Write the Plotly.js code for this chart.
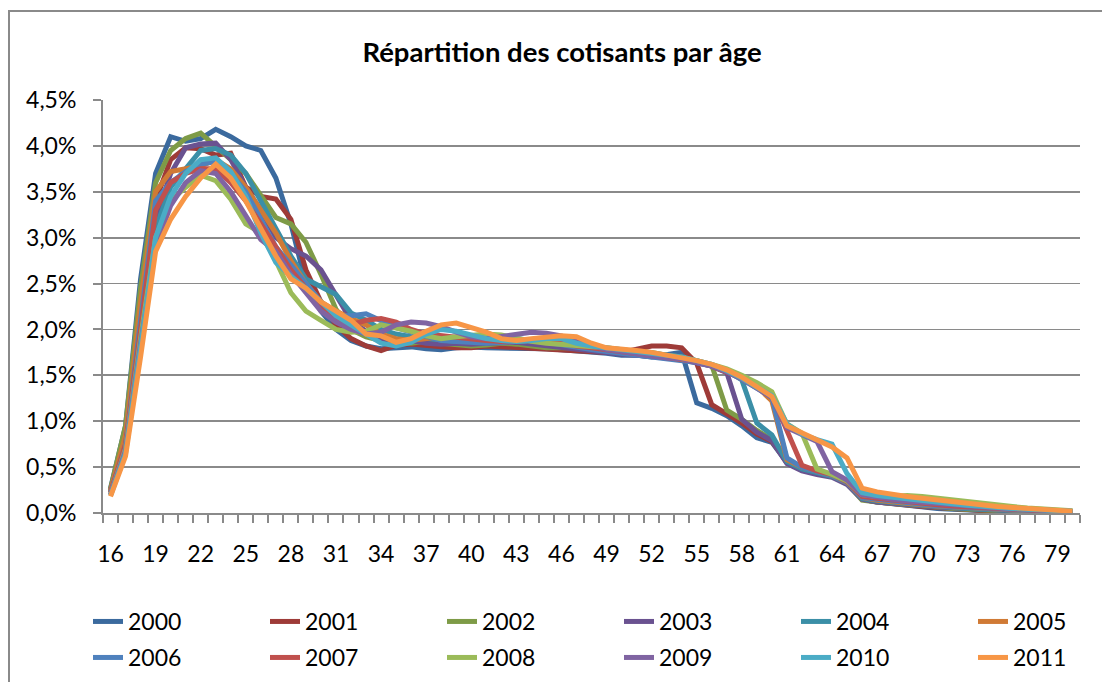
<!DOCTYPE html>
<html>
<head>
<meta charset="utf-8">
<script src="https://cdn.plot.ly/plotly-3.0.1.min.js"></script>
<style>html,body{margin:0;padding:0;background:#fff;}#chart{width:1102px;height:682px;}</style>
</head>
<body>
<div id="chart"></div>
<script>
// Ages 16..80
const ages = [16,17,18,19,20,21,22,23,24,25,26,27,28,29,30,31,32,33,34,35,36,37,38,39,40,41,42,43,44,45,46,47,48,49,50,51,52,53,54,55,56,57,58,59,60,61,62,63,64,65,66,67,68,69,70,71,72,73,74,75,76,77,78,79,80];
const xTickLabels = [16,19,22,25,28,31,34,37,40,43,46,49,52,55,58,61,64,67,70,73,76,79];
const seriesNames = ['2000','2001','2002','2003','2004','2005','2006','2007','2008','2009','2010','2011'];

const y2000 = [0.27,0.95,2.55,3.7,4.1,4.05,4.08,4.18,4.1,4.0,
  3.95,3.65,3.15,2.5,2.2,2.0,1.88,1.82,1.79,1.8,
  1.81,1.79,1.78,1.8,1.81,1.8,1.8,1.8,1.79,1.79,
  1.78,1.77,1.76,1.74,1.72,1.72,1.7,1.72,1.75,1.2,
  1.14,1.06,0.95,0.82,0.77,0.55,0.47,0.43,0.4,0.32,
  0.15,0.12,0.1,0.08,0.07,0.05,0.04,0.03,0.025,0.02,
  0.015,0.012,0.01,0.01,0.008];
const y2001 = [0.25,0.85,2.3,3.4,3.85,3.98,3.97,3.9,3.92,3.55,
  3.45,3.42,3.2,2.65,2.3,2.05,1.9,1.82,1.77,1.83,
  1.84,1.82,1.81,1.8,1.8,1.82,1.81,1.8,1.8,1.79,
  1.78,1.77,1.76,1.75,1.75,1.79,1.82,1.82,1.8,1.63,
  1.18,1.08,0.98,0.86,0.78,0.56,0.48,0.44,0.4,0.33,
  0.15,0.12,0.1,0.09,0.07,0.06,0.045,0.035,0.028,0.022,
  0.017,0.013,0.01,0.01,0.008];
const y2002 = [0.26,0.95,2.45,3.6,3.95,4.08,4.14,4.0,3.85,3.7,
  3.45,3.22,3.15,2.95,2.6,2.22,2.0,1.92,1.88,1.85,
  1.85,1.87,1.85,1.83,1.82,1.83,1.85,1.84,1.82,1.8,
  1.8,1.8,1.78,1.77,1.76,1.75,1.75,1.72,1.7,1.66,
  1.61,1.12,1.02,0.9,0.8,0.55,0.47,0.43,0.4,0.32,
  0.14,0.12,0.1,0.09,0.08,0.06,0.05,0.04,0.03,0.025,
  0.02,0.015,0.012,0.01,0.009];
const y2003 = [0.24,0.8,2.1,3.2,3.7,3.98,4.02,4.03,3.85,3.55,
  3.3,3.0,2.88,2.8,2.65,2.37,2.1,1.98,1.9,1.87,
  1.88,1.85,1.84,1.85,1.84,1.85,1.86,1.86,1.84,1.82,
  1.8,1.78,1.77,1.75,1.73,1.72,1.71,1.69,1.67,1.64,
  1.6,1.53,1.02,0.88,0.79,0.54,0.46,0.42,0.39,0.31,
  0.15,0.12,0.11,0.09,0.08,0.065,0.055,0.045,0.035,0.028,
  0.022,0.017,0.013,0.011,0.01];
const y2004 = [0.23,0.8,2.1,3.1,3.55,3.75,3.95,3.97,3.9,3.7,
  3.4,3.1,2.8,2.55,2.47,2.38,2.18,2.1,2.0,1.95,
  1.92,1.9,1.88,1.87,1.87,1.88,1.9,1.9,1.88,1.86,
  1.84,1.82,1.8,1.78,1.76,1.73,1.71,1.69,1.67,1.65,
  1.61,1.55,1.45,0.98,0.85,0.56,0.48,0.44,0.4,0.33,
  0.16,0.13,0.11,0.1,0.085,0.07,0.06,0.05,0.04,0.032,
  0.025,0.02,0.015,0.012,0.01];
const y2005 = [0.24,0.85,2.3,3.5,3.72,3.75,3.78,3.85,3.75,3.55,
  3.3,3.05,2.75,2.5,2.3,2.2,2.12,2.05,1.95,1.9,
  1.88,1.9,1.92,1.9,1.88,1.87,1.86,1.87,1.88,1.87,
  1.85,1.82,1.8,1.78,1.76,1.74,1.71,1.69,1.67,1.65,
  1.61,1.55,1.47,1.38,1.22,0.58,0.5,0.45,0.41,0.33,
  0.17,0.14,0.12,0.1,0.09,0.075,0.065,0.055,0.045,0.036,
  0.028,0.022,0.017,0.014,0.011];
const y2006 = [0.22,0.75,2.1,3.4,3.6,3.72,3.8,3.83,3.7,3.5,
  3.2,2.9,2.7,2.5,2.3,2.15,2.15,2.17,2.1,2.02,
  1.97,1.92,1.88,1.87,1.86,1.85,1.86,1.87,1.88,1.86,
  1.83,1.8,1.78,1.76,1.74,1.72,1.7,1.68,1.66,1.64,
  1.6,1.54,1.46,1.36,1.26,0.6,0.5,0.45,0.41,0.33,
  0.17,0.15,0.13,0.11,0.095,0.08,0.07,0.06,0.05,0.04,
  0.032,0.025,0.02,0.016,0.012];
const y2007 = [0.22,0.75,2.0,3.3,3.6,3.7,3.75,3.75,3.6,3.4,
  3.15,2.9,2.65,2.45,2.25,2.1,2.05,2.1,2.12,2.08,
  2.0,1.95,1.93,1.92,1.9,1.88,1.87,1.88,1.9,1.9,
  1.86,1.82,1.8,1.78,1.76,1.74,1.71,1.69,1.67,1.65,
  1.6,1.54,1.47,1.38,1.28,0.9,0.52,0.46,0.42,0.34,
  0.18,0.16,0.14,0.12,0.1,0.09,0.075,0.065,0.055,0.045,
  0.036,0.028,0.022,0.017,0.013];
const y2008 = [0.2,0.7,1.9,3.0,3.4,3.55,3.68,3.62,3.42,3.15,
  3.05,2.75,2.4,2.2,2.1,2.0,1.97,1.98,2.05,2.02,
  1.98,1.93,1.9,1.92,1.93,1.95,1.94,1.9,1.87,1.85,
  1.84,1.83,1.82,1.8,1.78,1.75,1.72,1.7,1.68,1.66,
  1.62,1.57,1.5,1.42,1.32,0.97,0.87,0.48,0.42,0.35,
  0.2,0.18,0.18,0.19,0.18,0.16,0.14,0.12,0.1,0.085,
  0.07,0.055,0.042,0.032,0.024];
const y2009 = [0.2,0.68,1.85,2.9,3.35,3.6,3.73,3.7,3.5,3.25,
  2.98,2.85,2.6,2.4,2.2,2.08,2.0,1.95,1.97,2.05,
  2.08,2.07,2.03,1.97,1.92,1.9,1.92,1.95,1.97,1.96,
  1.93,1.87,1.82,1.78,1.76,1.73,1.71,1.69,1.68,1.64,
  1.6,1.54,1.46,1.36,1.26,0.93,0.85,0.78,0.45,0.36,
  0.2,0.17,0.15,0.13,0.115,0.1,0.085,0.075,0.065,0.055,
  0.045,0.036,0.028,0.022,0.016];
const y2010 = [0.19,0.65,1.8,3.0,3.45,3.7,3.85,3.87,3.72,3.45,
  3.05,2.73,2.58,2.45,2.3,2.15,2.05,1.95,1.85,1.82,
  1.86,1.95,2.0,1.98,1.94,1.9,1.88,1.87,1.88,1.9,
  1.9,1.85,1.82,1.8,1.78,1.76,1.74,1.71,1.7,1.66,
  1.62,1.55,1.47,1.37,1.28,0.97,0.86,0.8,0.75,0.43,
  0.22,0.19,0.17,0.15,0.13,0.115,0.1,0.085,0.07,0.06,
  0.05,0.04,0.032,0.025,0.018];
const y2011 = [0.18,0.62,1.7,2.85,3.2,3.45,3.65,3.8,3.65,3.4,
  3.1,2.8,2.55,2.45,2.3,2.2,2.1,1.95,1.93,1.86,
  1.9,1.98,2.05,2.07,2.02,1.97,1.9,1.88,1.9,1.92,
  1.93,1.92,1.85,1.8,1.79,1.77,1.75,1.72,1.7,1.66,
  1.62,1.56,1.48,1.38,1.27,0.95,0.87,0.8,0.72,0.6,
  0.27,0.23,0.2,0.18,0.16,0.14,0.12,0.1,0.085,0.07,
  0.06,0.05,0.04,0.03,0.02];

const seriesValues = [y2000,y2001,y2002,y2003,y2004,y2005,y2006,y2007,y2008,y2009,y2010,y2011];
const seriesColors = ['#3B6A9E','#9E3B38','#7E9B47','#6A5290','#3B8FA7','#D07A35',
                      '#4F81BD','#C0504D','#9BBB59','#8064A2','#4BACC6','#F79646'];

const FONT = 'Lato, "Open Sans", sans-serif';
const GRID = '#8a8a8a';

const traces = seriesNames.map((name, i) => {
  const t = {
    type: 'scatter',
    mode: 'lines',
    name: name,
    x: ages,
    y: seriesValues[i],
    line: {color: seriesColors[i], width: 5, shape: 'linear'},
    hoverinfo: 'skip',
    legend: i < 6 ? 'legend' : 'legend2'
  };
  if (i % 6 === 5) t.legendwidth = 60;   // last column: keep the legend row inside the page
  return t;
});

// plot area in pixels
const L = 103, R = 22, T = 100, B = 169, W = 1102, H = 682;
const pw = W - L - R, ph = H - T - B;
const px2x = p => (p - L) / pw;
const py2y = p => (H - B - p) / ph;

const legendCommon = {
  orientation: 'h',
  xanchor: 'left',
  yanchor: 'top',
  entrywidth: 132,
  entrywidthmode: 'pixels',
  traceorder: 'normal',
  font: {family: FONT, size: 23, color: '#000'},
  bgcolor: 'rgba(0,0,0,0)',
  borderwidth: 0
};

const layout = {
  width: W, height: H,
  margin: {l: L, r: R, t: T, b: B, pad: 0, autoexpand: false},
  paper_bgcolor: '#ffffff',
  plot_bgcolor: '#ffffff',
  separators: ', ',
  font: {family: FONT, size: 23, color: '#000000'},
  showlegend: true,
  title: {
    text: '<b>Répartition des cotisants par âge</b>',
    font: {family: FONT, size: 27.5, color: '#000000'},
    x: 0.51, xref: 'container', xanchor: 'center',
    y: 1 - 52 / 682, yref: 'container', yanchor: 'middle'
  },
  xaxis: {
    type: 'linear',
    range: [15.5, 80.5],
    tickmode: 'array',
    tickvals: xTickLabels,
    ticktext: xTickLabels.map(String),
    ticks: '',
    showgrid: false,
    zeroline: false,
    showline: true,
    linecolor: GRID,
    linewidth: 2,
    ticklabelstandoff: 19,
    tickfont: {family: FONT, size: 23, color: '#000'},
    minor: {ticks: 'outside', ticklen: 8, tickwidth: 2, tickcolor: GRID, tick0: 15.5, dtick: 1, showgrid: false},
    fixedrange: true
  },
  yaxis: {
    range: [0, 4.5],
    dtick: 0.5,
    tick0: 0,
    tickformat: '.1f',
    ticksuffix: '%',
    ticks: 'outside',
    ticklen: 8,
    tickwidth: 2,
    tickcolor: GRID,
    showgrid: true,
    gridcolor: GRID,
    gridwidth: 1.8,
    zeroline: false,
    showline: true,
    linecolor: GRID,
    linewidth: 2,
    ticklabelstandoff: 12,
    tickfont: {family: FONT, size: 23, color: '#000'},
    fixedrange: true
  },
  legend: Object.assign({}, legendCommon, {x: px2x(88), y: py2y(600)}),
  legend2: Object.assign({}, legendCommon, {x: px2x(88), y: py2y(636)}),
  shapes: [{
    type: 'rect', xref: 'paper', yref: 'paper', layer: 'below',
    x0: px2x(9), x1: px2x(1140), y0: py2y(720), y1: py2y(11),
    line: {color: '#8a8a8a', width: 2}, fillcolor: 'rgba(0,0,0,0)'
  }]
};

Plotly.newPlot('chart', traces, layout, {displayModeBar: false, staticPlot: true});
</script>
</body>
</html>
